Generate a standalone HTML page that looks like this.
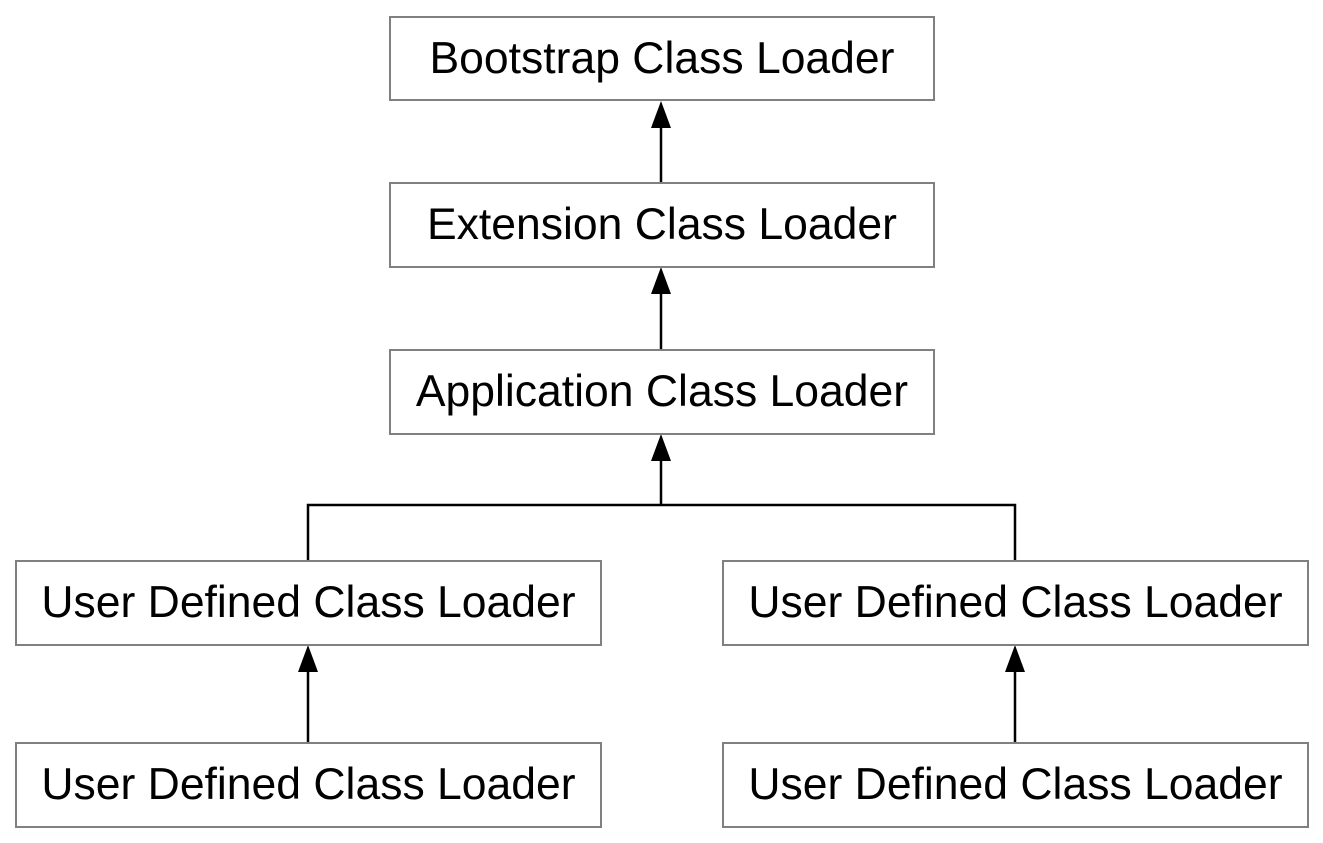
<!DOCTYPE html>
<html><head><style>
body{margin:0;width:1323px;height:843px;background:#fff;position:relative;overflow:hidden;font-family:"Liberation Sans",sans-serif}
.b{position:absolute;box-sizing:border-box;border:2px solid #808080;display:flex;align-items:center;justify-content:center;font-size:44.5px;color:#000;background:#fff;white-space:nowrap}
svg{position:absolute;left:0;top:0}
</style></head><body>
<svg width="1323" height="843">
<g stroke="#000" stroke-width="2.5" fill="none">
<line x1="661" y1="126" x2="661" y2="182"/>
<line x1="661" y1="292" x2="661" y2="349"/>
<line x1="661" y1="459" x2="661" y2="505"/>
<polyline points="308,560 308,505 1015,505 1015,560"/>
<line x1="308" y1="670" x2="308" y2="742"/>
<line x1="1015" y1="670" x2="1015" y2="742"/>
</g>
<g fill="#000">
<polygon points="661,101 651,128 671,128"/>
<polygon points="661,267 651,294 671,294"/>
<polygon points="661,434 651,461 671,461"/>
<polygon points="308,645 298,672 318,672"/>
<polygon points="1015,645 1005,672 1025,672"/>
</g>
</svg>
<div class="b" style="left:389px;top:16px;width:546px;height:85px">Bootstrap Class Loader</div>
<div class="b" style="left:389px;top:182px;width:546px;height:86px">Extension Class Loader</div>
<div class="b" style="left:389px;top:349px;width:546px;height:86px">Application Class Loader</div>
<div class="b" style="left:15px;top:560px;width:587px;height:86px">User Defined Class Loader</div>
<div class="b" style="left:722px;top:560px;width:587px;height:86px">User Defined Class Loader</div>
<div class="b" style="left:15px;top:742px;width:587px;height:86px">User Defined Class Loader</div>
<div class="b" style="left:722px;top:742px;width:587px;height:86px">User Defined Class Loader</div>
</body></html>
